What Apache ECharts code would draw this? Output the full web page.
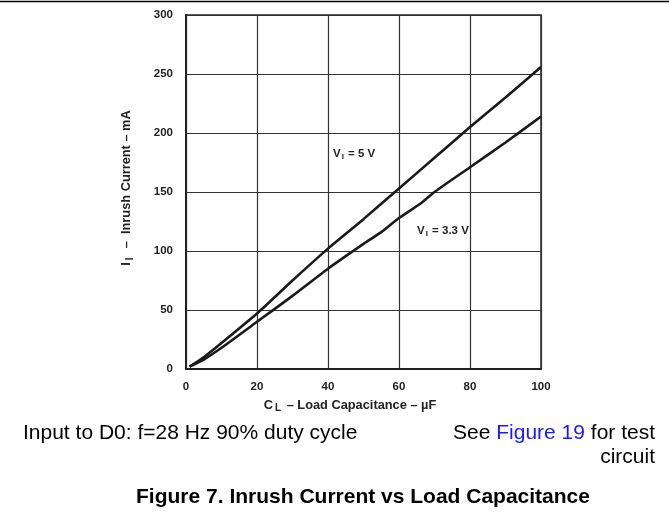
<!DOCTYPE html>
<html>
<head>
<meta charset="utf-8">
<script src="https://cdn.jsdelivr.net/npm/echarts@6/dist/echarts.min.js"></script>
<style>
  html, body { margin: 0; padding: 0; background: #fff; }
  #chart { width: 669px; height: 519px; }
</style>
</head>
<body>
<div id="chart"></div>
<script>
// curve data: [load capacitance uF, inrush current mA]
var curve5V = [[1, 2], [5, 10], [10, 22], [20, 47], [30, 75], [40, 102], [50, 127],
  [60, 153], [70, 179], [80, 205], [90, 230], [100, 256]];
var curve33V = [[1, 2], [5, 8], [10, 18], [20, 40], [30, 62], [40, 85], [50, 106],
  [55, 116], [60, 128], [66, 140], [70, 150], [80, 171], [90, 192], [100, 214]];
var xTicks = [0, 20, 40, 60, 80, 100];
var yTicks = [0, 50, 100, 150, 200, 250, 300];

var font = "'Liberation Sans', Arial, sans-serif";
var chart = echarts.init(document.getElementById("chart"));

var option = {
  animation: false,
  grid: {
    left: 186, right: 128, top: 15, bottom: 150,
    show: true, borderColor: "#222", borderWidth: 1.5
  },
  xAxis: {
    type: "value", min: 0, max: 100, interval: 20,
    axisLine: { show: true, lineStyle: { color: "#222", width: 2 } },
    axisTick: { show: false },
    splitLine: { show: true, lineStyle: { color: "#333", width: 1.2 } },
    axisLabel: {
      margin: 12, color: "#222", fontWeight: "bold", fontSize: 11.5, fontFamily: font,
      formatter: function(v) { return xTicks.indexOf(v) >= 0 ? String(v) : ""; }
    }
  },
  yAxis: {
    type: "value", min: 0, max: 300, interval: 50,
    axisLine: { show: true, lineStyle: { color: "#222", width: 2 } },
    axisTick: { show: false },
    splitLine: { show: true, lineStyle: { color: "#333", width: 1.2 } },
    axisLabel: {
      margin: 13, color: "#222", fontWeight: "bold", fontSize: 11.5, fontFamily: font,
      formatter: function(v) { return yTicks.indexOf(v) >= 0 ? String(v) : ""; }
    }
  },
  series: [
    {
      name: "VI = 5 V", type: "line", data: curve5V, showSymbol: false,
      lineStyle: { color: "#1a1a1a", width: 2.6 }, smooth: 0.2
    },
    {
      name: "VI = 3.3 V", type: "line", data: curve33V, showSymbol: false,
      lineStyle: { color: "#1a1a1a", width: 2.6 }, smooth: 0.2
    }
  ],
  graphic: [
    // rule at the top of the page
    { type: "line", shape: { x1: 0, y1: 1.5, x2: 669, y2: 1.5 }, style: { stroke: "#000", lineWidth: 1.5 } },
    // curve labels
    {
      type: "text", x: 333, y: 147,
      style: {
        text: "{b|V}{s|I}{b| = 5 V}",
        rich: {
          b: { fontSize: 11.5, fontWeight: "bold", fontFamily: font, fill: "#222" },
          s: { fontSize: 8, fontWeight: "bold", fontFamily: font, fill: "#222", padding: [6, 1, 0, 1] }
        }
      }
    },
    {
      type: "text", x: 417, y: 224,
      style: {
        text: "{b|V}{s|I}{b| = 3.3 V}",
        rich: {
          b: { fontSize: 11.5, fontWeight: "bold", fontFamily: font, fill: "#222" },
          s: { fontSize: 8, fontWeight: "bold", fontFamily: font, fill: "#222", padding: [6, 1, 0, 1] }
        }
      }
    },
    // axis names
    {
      type: "text", x: 350, y: 405,
      style: {
        text: "{b|C}{s|L}{b| \u2013 Load Capacitance \u2013 \u00b5F}",
        align: "center", verticalAlign: "middle",
        rich: {
          b: { fontSize: 12.8, fontWeight: "bold", fontFamily: font, fill: "#222" },
          s: { fontSize: 10, fontWeight: "bold", fontFamily: font, fill: "#222", padding: [7, 2, 0, 2] }
        }
      }
    },
    {
      type: "text", x: 126, y: 188, rotation: Math.PI / 2,
      style: {
        text: "{b|I}{s|I}{b|  \u2013  Inrush Current \u2013 mA}",
        align: "center", verticalAlign: "middle",
        rich: {
          b: { fontSize: 12.8, fontWeight: "bold", fontFamily: font, fill: "#222" },
          s: { fontSize: 10, fontWeight: "bold", fontFamily: font, fill: "#222", padding: [9, 2, 0, 2] }
        }
      }
    },
    // notes under the figure
    {
      type: "text", x: 23, y: 433,
      style: {
        text: "Input to D0: f=28 Hz 90% duty cycle",
        verticalAlign: "middle", fontSize: 21, fontFamily: font, fill: "#000"
      }
    },
    {
      type: "text", x: 655, y: 433,
      style: {
        text: "See {l|Figure 19} for test",
        align: "right", verticalAlign: "middle", fontSize: 21, fontFamily: font, fill: "#000",
        rich: { l: { fontSize: 21, fontFamily: font, fill: "#1a1aff" } }
      }
    },
    {
      type: "text", x: 655, y: 457,
      style: {
        text: "circuit",
        align: "right", verticalAlign: "middle", fontSize: 21, fontFamily: font, fill: "#000"
      }
    },
    {
      type: "text", x: 363, y: 497,
      style: {
        text: "Figure 7. Inrush Current vs Load Capacitance",
        align: "center", verticalAlign: "middle", fontSize: 21, fontWeight: "bold",
        fontFamily: font, fill: "#000"
      }
    }
  ]
};

chart.setOption(option);
</script>
</body>
</html>
